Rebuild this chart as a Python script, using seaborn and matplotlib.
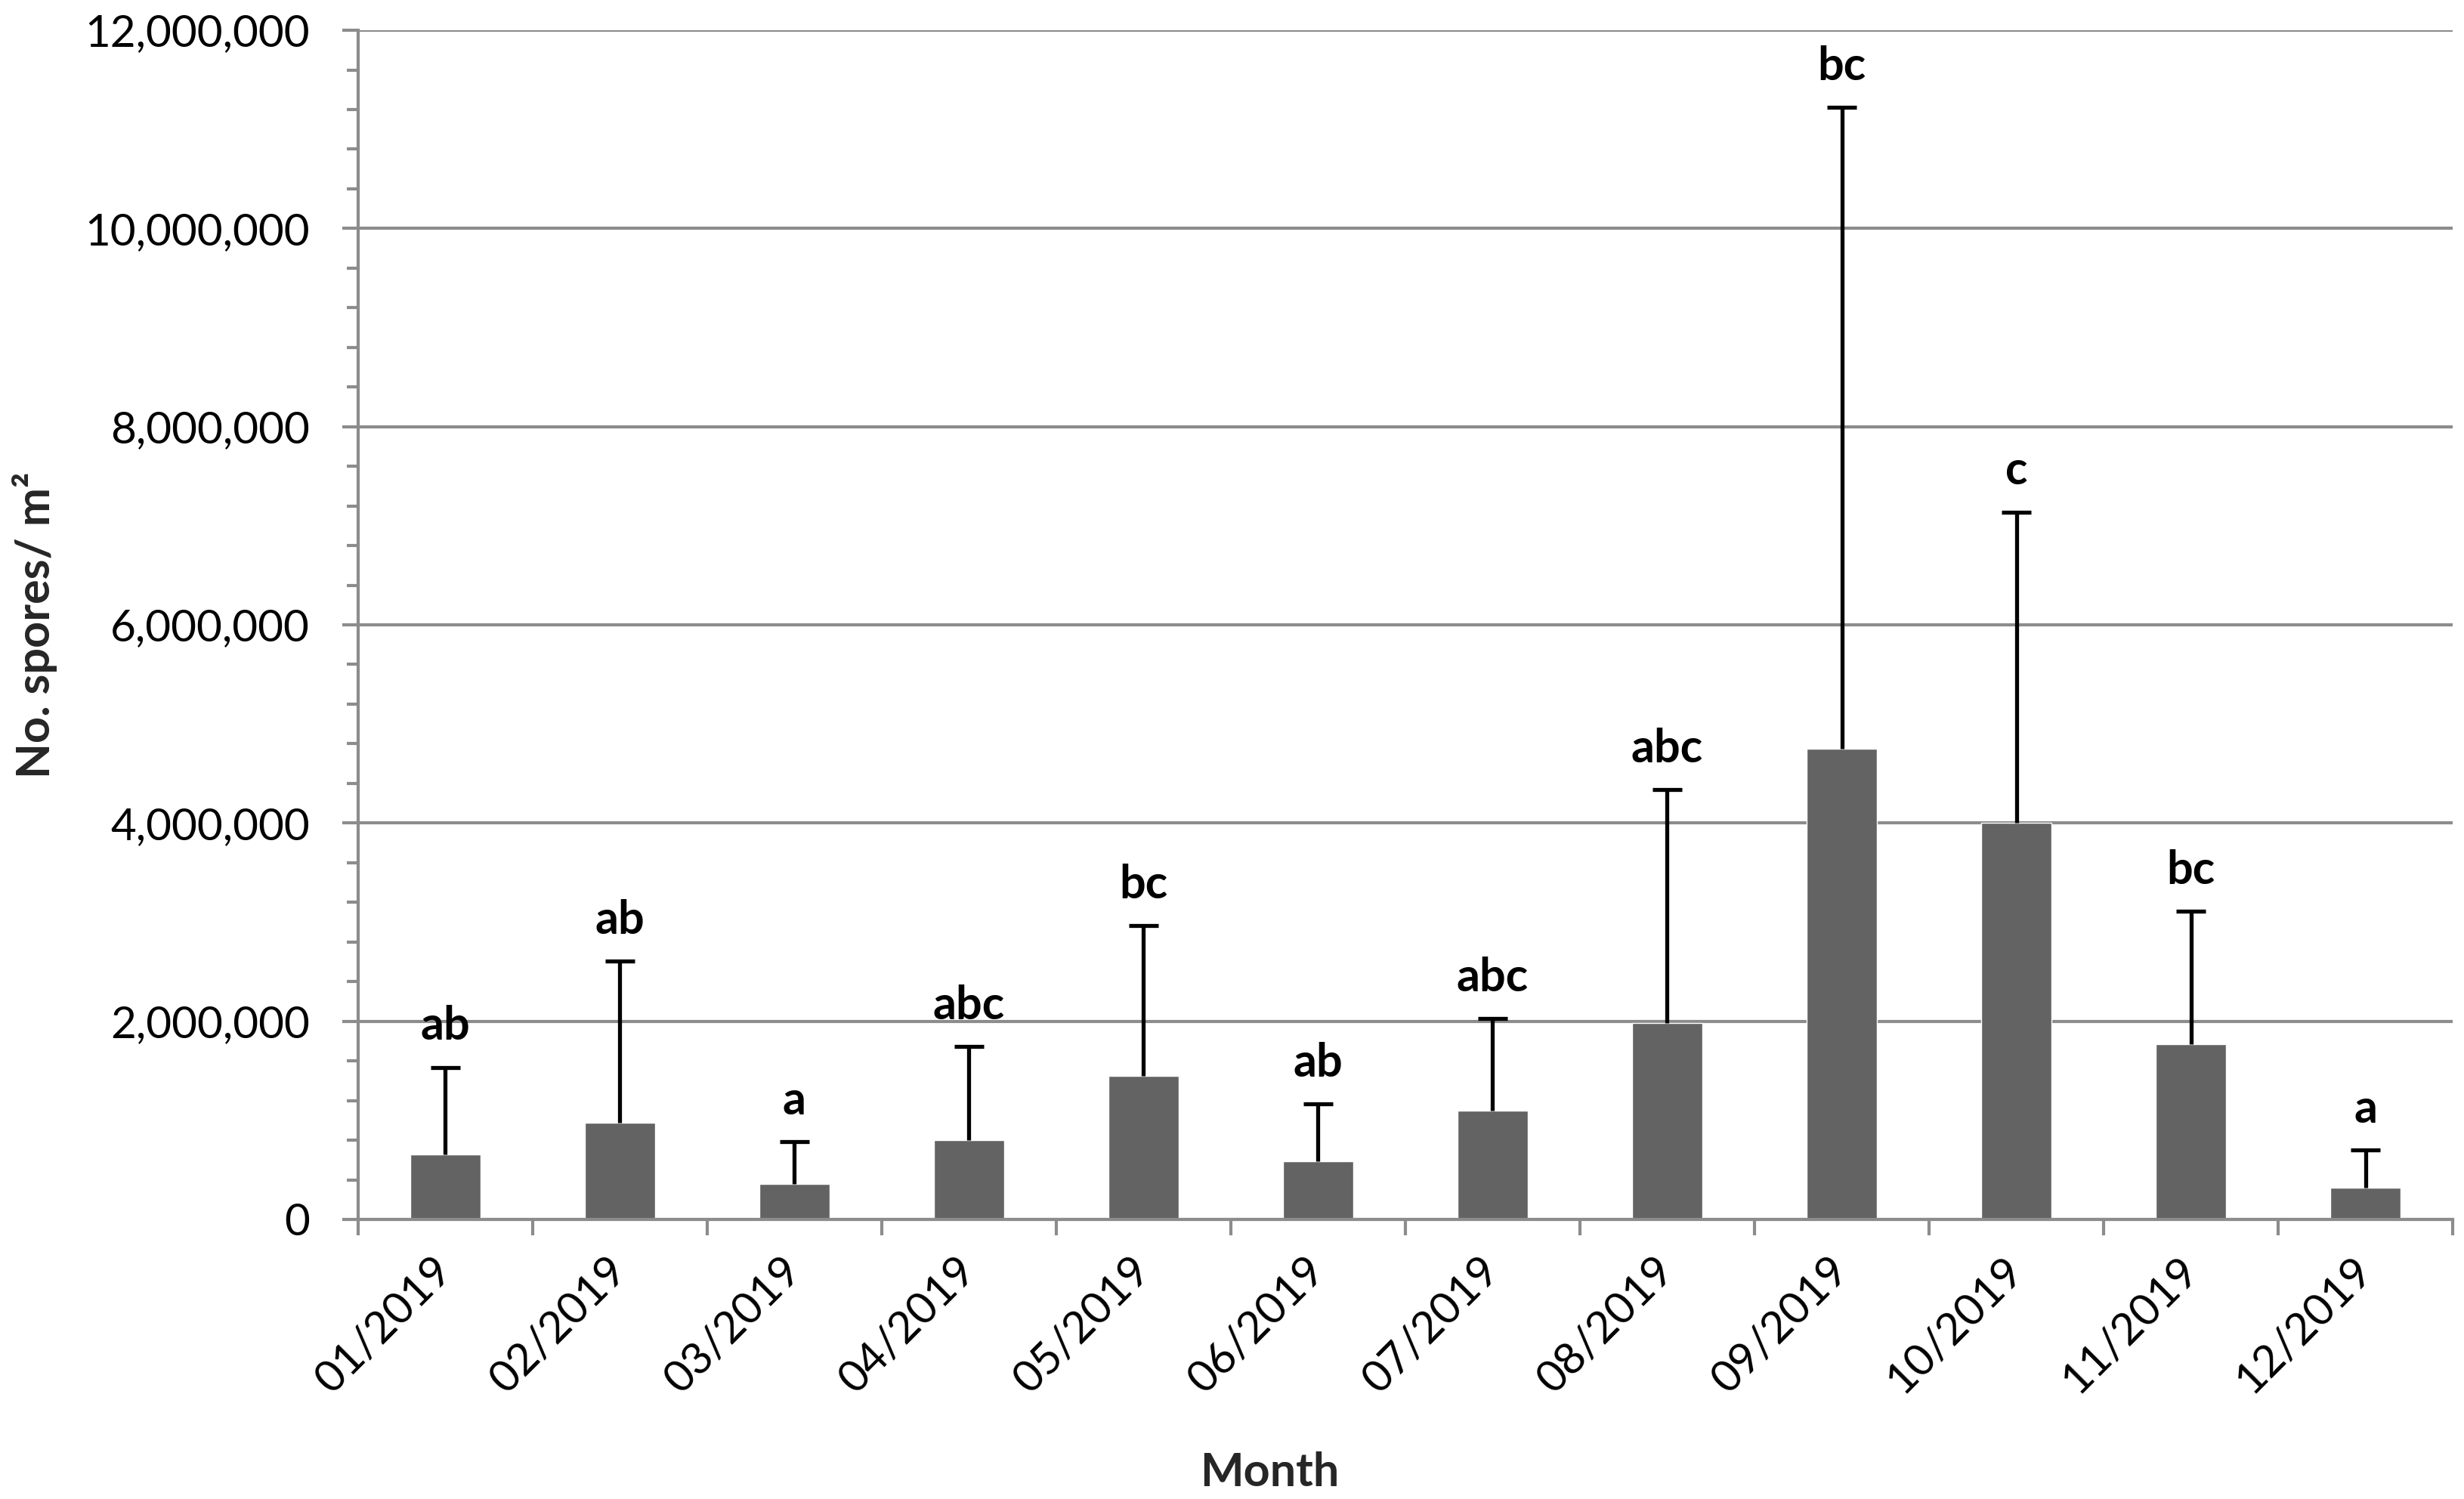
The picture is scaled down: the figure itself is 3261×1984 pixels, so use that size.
import numpy as np
import pandas as pd
import matplotlib
matplotlib.use("Agg")
import matplotlib.pyplot as plt
from matplotlib.ticker import MultipleLocator, FuncFormatter
import seaborn as sns

months = ["01/2019", "02/2019", "03/2019", "04/2019", "05/2019", "06/2019",
          "07/2019", "08/2019", "09/2019", "10/2019", "11/2019", "12/2019"]
mean_spores = [654000, 973000, 357000, 800000, 1447000, 587000,
               1097000, 1980000, 4750000, 4000000, 1770000, 320000]
sd_spores = [882000, 1635000, 426000, 946000, 1518000, 576000,
             933000, 2360000, 6470000, 3140000, 1340000, 380000]
letters = ["ab", "ab", "a", "abc", "bc", "ab", "abc", "abc", "bc", "c", "bc", "a"]

sns.set_theme(style="white")
plt.rcParams['font.family'] = ['Lato', 'DejaVu Sans']

GRAY = "#8c8c8c"
BAR = "#636363"

fig = plt.figure(figsize=(32.62, 19.84), dpi=100)
ax = fig.add_axes([0.1453, 0.1865, 0.9951 - 0.1453, 0.9798 - 0.1865])

df = pd.DataFrame({"Month": months, "Spores": mean_spores})
sns.barplot(data=df, x="Month", y="Spores", color=BAR, saturation=1,
            width=0.40, errorbar=None, ax=ax, zorder=3)

x = np.arange(len(months))
upper = np.array(mean_spores) + np.array(sd_spores)
ax.vlines(x, mean_spores, upper, color="black", lw=3.8, zorder=4)
ax.hlines(upper, x - 0.085, x + 0.085, color="black", lw=3.8, zorder=4)
for xi, up, lab in zip(x, upper, letters):
    ax.annotate(lab, (xi, up), xytext=(0, 26), textcoords="offset points",
                ha="center", va="baseline", fontsize=44, fontweight="bold",
                color="black")

ax.set_xlim(-0.5, len(months) - 0.5)
ax.set_ylim(0, 12000000)
ax.yaxis.set_major_locator(MultipleLocator(2000000))
ax.yaxis.set_minor_locator(MultipleLocator(400000))
ax.yaxis.set_major_formatter(FuncFormatter(lambda v, p: f"{v:,.0f}"))
ax.grid(axis="y", which="major", color=GRAY, lw=3.0, zorder=0)
ax.set_axisbelow(True)

for s in ["top", "right"]:
    ax.spines[s].set_visible(False)
for s in ["left", "bottom"]:
    ax.spines[s].set_color(GRAY)
    ax.spines[s].set_linewidth(3.0)
    ax.spines[s].set_zorder(5)

ax.tick_params(axis="y", which="major", length=15, width=3.0, color=GRAY,
               labelsize=42, pad=31, labelcolor="black", left=True)
ax.tick_params(axis="y", which="minor", length=11, width=3.0, color=GRAY, left=True)

ax.set_xticks(x)
ax.set_xticklabels(months, rotation=45, ha="right", rotation_mode="anchor",
                   va="center")
ax.set_xticks(np.arange(-0.5, len(months), 1), minor=True)
ax.tick_params(axis="x", which="major", length=0, labelsize=42, pad=42,
               labelcolor="black", bottom=True)
ax.tick_params(axis="x", which="minor", length=15, width=3.0, color=GRAY,
               bottom=True)

ax.set_xlabel("Month", fontsize=44, fontweight="bold", va="center")
ax.xaxis.set_label_coords(0.435, -0.213)
ax.set_ylabel("No. spores/ m²", fontsize=44, fontweight="bold", va="center")
ax.yaxis.set_label_coords(-0.1544, 0.5)

fig.savefig("out.png", dpi=100, facecolor="white")
